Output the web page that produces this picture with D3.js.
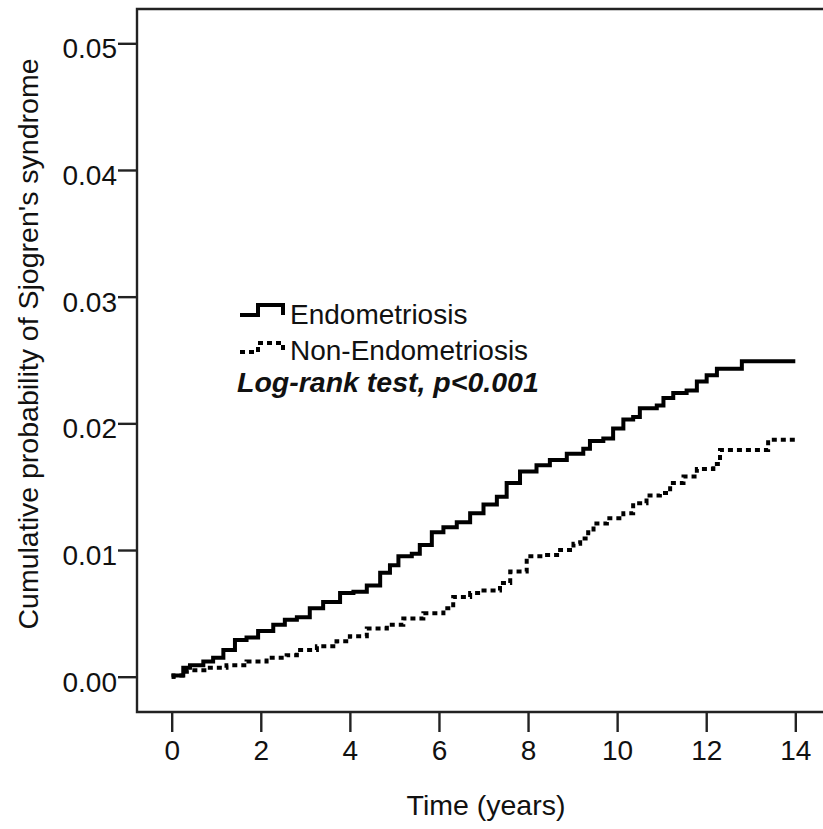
<!DOCTYPE html>
<html lang="en">
<head>
	<meta charset="UTF-8">
	<title>Cumulative incidence</title>
	<script src="https://cdn.jsdelivr.net/npm/d3@7"></script>
	<style>
		html,body{margin:0;padding:0;background:#fff;}
		svg{display:block;}
		text{font-family:"Liberation Sans",Arial,sans-serif;fill:#111;}
	</style>
</head>
<body>
	<svg id="svg" width="823" height="829"></svg>
	<script>
		// (years, cumulative probability)
		var endoTime = [0, 0.04, 0.26, 0.41, 0.71, 0.93, 1.16, 1.42, 1.68, 1.94, 2.28, 2.54, 2.81, 3.1, 3.4, 3.78, 4.08, 4.38, 4.68, 4.9, 5.09, 5.39, 5.57, 5.84, 6.1, 6.4, 6.7, 7.0, 7.3, 7.52, 7.82, 8.19, 8.49, 8.87, 9.24, 9.39, 9.69, 9.91, 10.14, 10.36, 10.51, 10.89, 11.04, 11.26, 11.56, 11.79, 12.01, 12.24, 12.8, 14.0];
		var endoProb = [0, 0.0001, 0.0007, 0.0009, 0.0012, 0.0015, 0.0021, 0.0029, 0.0031, 0.0036, 0.0041, 0.0045, 0.0047, 0.0054, 0.0059, 0.0066, 0.0067, 0.0072, 0.0082, 0.0088, 0.0095, 0.0097, 0.0104, 0.0114, 0.0118, 0.0122, 0.0129, 0.0136, 0.0142, 0.0153, 0.0162, 0.0167, 0.0171, 0.0176, 0.0180, 0.0186, 0.0188, 0.0196, 0.0203, 0.0205, 0.0212, 0.0214, 0.0220, 0.0224, 0.0226, 0.0233, 0.0238, 0.0243, 0.0249, 0.0249];
		var nonTime = [0, 0.04, 0.34, 0.79, 1.23, 1.68, 2.13, 2.58, 2.81, 3.26, 3.7, 4.0, 4.38, 4.83, 5.2, 5.65, 6.1, 6.32, 6.7, 7.0, 7.37, 7.6, 7.97, 8.34, 8.72, 9.02, 9.17, 9.35, 9.47, 9.77, 10.14, 10.36, 10.66, 10.96, 11.19, 11.49, 11.79, 12.16, 12.31, 13.39, 14.0];
		var nonProb = [0, 0.0001, 0.0005, 0.0007, 0.0009, 0.0012, 0.0015, 0.0017, 0.0021, 0.0024, 0.0028, 0.0032, 0.0038, 0.0041, 0.0046, 0.0050, 0.0054, 0.0063, 0.0066, 0.0068, 0.0074, 0.0083, 0.0095, 0.0096, 0.0100, 0.0105, 0.0109, 0.0114, 0.0121, 0.0125, 0.0129, 0.0137, 0.0143, 0.0145, 0.0153, 0.0158, 0.0164, 0.0168, 0.0179, 0.0187, 0.0187];
		var xTicks = [0, 2, 4, 6, 8, 10, 12, 14];
		var yTicks = [0, 0.01, 0.02, 0.03, 0.04, 0.05];
		var seriesNames = ["Endometriosis", "Non-Endometriosis"];

		var svg = d3.select("svg");
		// plot frame edges (names avoid window.top)
		var fLeft = 137, fTop = 9, fBottom = 712, fRight = 823;

		var x = d3.scaleLinear().domain([0, 14]).range([171.7, 795.3]);
		var y = d3.scaleLinear().domain([0, 0.05]).range([676.7, 43.3]);

		// frame: top, left and bottom sides, right side runs off the page
		svg.append("path")
			.attr("d", "M" + fRight + "," + fTop + "H" + fLeft + "V" + fBottom + "H" + fRight)
			.attr("fill", "none")
			.attr("stroke", "#222")
			.attr("stroke-width", 2.4);

		var yAxis = svg.append("g")
			.attr("transform", "translate(" + fLeft + ",0)")
			.call(d3.axisLeft(y).tickValues(yTicks).tickSize(19).tickPadding(1).tickFormat(d3.format(".2f")));
		var xAxis = svg.append("g")
			.attr("transform", "translate(0," + fBottom + ")")
			.call(d3.axisBottom(x).tickValues(xTicks).tickSize(20).tickPadding(9).tickFormat(d3.format("d")));

		[yAxis, xAxis].forEach(function(g){
			g.select(".domain").remove();
			g.selectAll("line").attr("stroke", "#222").attr("stroke-width", 2.4);
			g.selectAll("text")
				.style("font-family", '"Liberation Sans",Arial,sans-serif')
				.style("font-size", "28px")
				.attr("fill", "#111");
		});
		yAxis.selectAll("text").attr("dy", "0.52em");
		xAxis.selectAll("text").attr("dy", "0.68em");

		var line = d3.line()
			.x(function(d){ return x(d[0]); })
			.y(function(d){ return y(d[1]); })
			.curve(d3.curveStepAfter);

		var endo = d3.zip(endoTime, endoProb),
			non = d3.zip(nonTime, nonProb);

		svg.append("path")
			.datum(non)
			.attr("d", line)
			.attr("fill", "none")
			.attr("stroke", "#000")
			.attr("stroke-width", 4)
			.attr("stroke-dasharray", "5,4");

		svg.append("path")
			.datum(endo)
			.attr("d", line)
			.attr("fill", "none")
			.attr("stroke", "#000")
			.attr("stroke-width", 4);

		// legend
		var legend = svg.append("g");
		legend.append("path")
			.attr("d", "M240,315H258V305H283V315")
			.attr("fill", "none").attr("stroke", "#000").attr("stroke-width", 4);
		legend.append("path")
			.attr("d", "M240,352H258V343H283V351")
			.attr("fill", "none").attr("stroke", "#000").attr("stroke-width", 4)
			.attr("stroke-dasharray", "5,4");
		legend.selectAll("text.name")
			.data(seriesNames)
			.enter().append("text")
			.attr("class", "name")
			.attr("x", 290)
			.attr("y", function(d, i){ return 324 + i * 36; })
			.style("font-size", "28px")
			.text(function(d){ return d; });
		legend.append("text")
			.attr("x", 237)
			.attr("y", 392)
			.style("font-size", "28.5px")
			.style("font-weight", "bold")
			.style("font-style", "italic")
			.text("Log-rank test, p<0.001");

		// axis titles
		svg.append("text")
			.attr("x", 486)
			.attr("y", 815)
			.attr("text-anchor", "middle")
			.style("font-size", "28.5px")
			.text("Time (years)");
		svg.append("text")
			.attr("transform", "translate(38,344) rotate(-90)")
			.attr("text-anchor", "middle")
			.style("font-size", "28.5px")
			.text("Cumulative probability of Sjogren's syndrome");
	</script>
</body>
</html>
